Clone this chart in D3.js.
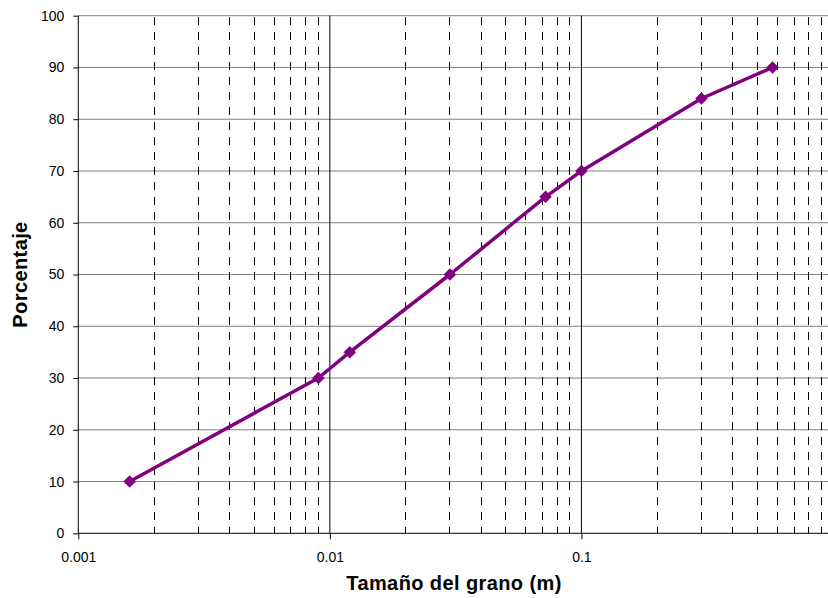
<!DOCTYPE html>
<html>
<head>
<meta charset="utf-8">
<script src="https://cdn.jsdelivr.net/npm/d3@7"></script>
<style>
  html, body { margin: 0; padding: 0; background: #fff; }
  svg { display: block; font-family: "Liberation Sans", Arial, sans-serif; }
</style>
</head>
<body>
<svg id="chart" width="828" height="598"></svg>
<script>
// Grain size distribution (cumulative percentage)
const grainSize = [0.0016, 0.009, 0.012, 0.03, 0.072, 0.1, 0.3, 0.575];
const percent   = [10, 30, 35, 50, 65, 70, 84, 90];
const xTickValues = [0.001, 0.01, 0.1];
const xTickLabels = ["0.001", "0.01", "0.1"];
const yTickValues = [0, 10, 20, 30, 40, 50, 60, 70, 80, 90, 100];

const svg = d3.select("#chart");
const plotLeft = 78.3, plotRight = 833, plotTop = 15.7, plotBottom = 533.3;
const fontFamily = "Liberation Sans, Arial, sans-serif";

const x = d3.scaleLog().domain([0.001, 1]).range([plotLeft, plotRight]);
const y = d3.scaleLinear().domain([0, 100]).range([plotBottom, plotTop]);

// minor decade values 2..9 × 10^k
const minor = [];
[0.001, 0.01, 0.1].forEach(d => { for (let m = 2; m <= 9; m++) minor.push(+(d * m).toPrecision(3)); });

// horizontal gridlines
svg.append("g").selectAll("line").data(yTickValues.slice(1)).join("line")
  .attr("x1", plotLeft).attr("x2", plotRight)
  .attr("y1", d => y(d)).attr("y2", d => y(d))
  .attr("stroke", "#808080").attr("stroke-width", 1);

// minor vertical gridlines (dashed, drawn top to bottom)
svg.append("g").selectAll("line").data(minor).join("line")
  .attr("x1", d => x(d)).attr("x2", d => x(d))
  .attr("y1", plotTop + 1).attr("y2", plotBottom)
  .attr("stroke", "#000").attr("stroke-width", 1)
  .attr("stroke-dasharray", "8,7")
  .attr("shape-rendering", "crispEdges");

// major vertical gridlines
svg.append("g").selectAll("line").data([0.01, 0.1, 1]).join("line")
  .attr("x1", d => x(d)).attr("x2", d => x(d))
  .attr("y1", plotBottom).attr("y2", plotTop)
  .attr("stroke", "#000").attr("stroke-width", 1);

// y axis
const yAxis = d3.axisLeft(y).tickValues(yTickValues).tickSize(5).tickPadding(9);
const gy = svg.append("g").attr("transform", `translate(${plotLeft},0)`).call(yAxis);
gy.select(".domain").attr("d", `M0,${plotTop}V${plotBottom}`).attr("stroke", "#000");
gy.selectAll(".tick line").attr("stroke", "#000");
gy.selectAll(".tick text").style("font-size", "14px").attr("fill", "#000")
  .style("font-family", fontFamily);

// x axis
const xAxis = d3.axisBottom(x).tickValues(xTickValues)
  .tickFormat((d, i) => xTickLabels[i]).tickSize(6).tickPadding(12.5);
const gx = svg.append("g").attr("transform", `translate(0,${plotBottom})`).call(xAxis);
gx.select(".domain").attr("d", `M${plotLeft},0H${plotRight}`).attr("stroke", "#000");
gx.selectAll(".tick line").attr("stroke", "#000");
gx.selectAll(".tick text").style("font-size", "14px").attr("fill", "#000")
  .style("font-family", fontFamily);

// data line
const line = d3.line().x((d, i) => x(grainSize[i])).y(d => y(d));
svg.append("path").datum(percent)
  .attr("d", line)
  .attr("fill", "none")
  .attr("stroke", "#800080")
  .attr("stroke-width", 3.5)
  .attr("stroke-linejoin", "round");

// diamond markers
const diamond = d3.symbol().type(d3.symbolDiamond2).size(100);
svg.append("g").selectAll("path").data(percent).join("path")
  .attr("transform", (d, i) => `translate(${x(grainSize[i])},${y(d)})`)
  .attr("d", diamond)
  .attr("fill", "#800080");

// axis titles
svg.append("text")
  .attr("x", 454).attr("y", 590)
  .attr("text-anchor", "middle")
  .style("font-size", "20px").style("font-weight", "bold")
  .style("letter-spacing", "0.4px")
  .text("Tamaño del grano (m)");

svg.append("text")
  .attr("transform", `translate(26.5,274.5) rotate(-90)`)
  .attr("text-anchor", "middle")
  .style("font-size", "20px").style("font-weight", "bold")
  .style("letter-spacing", "0.4px")
  .text("Porcentaje");
</script>
</body>
</html>
